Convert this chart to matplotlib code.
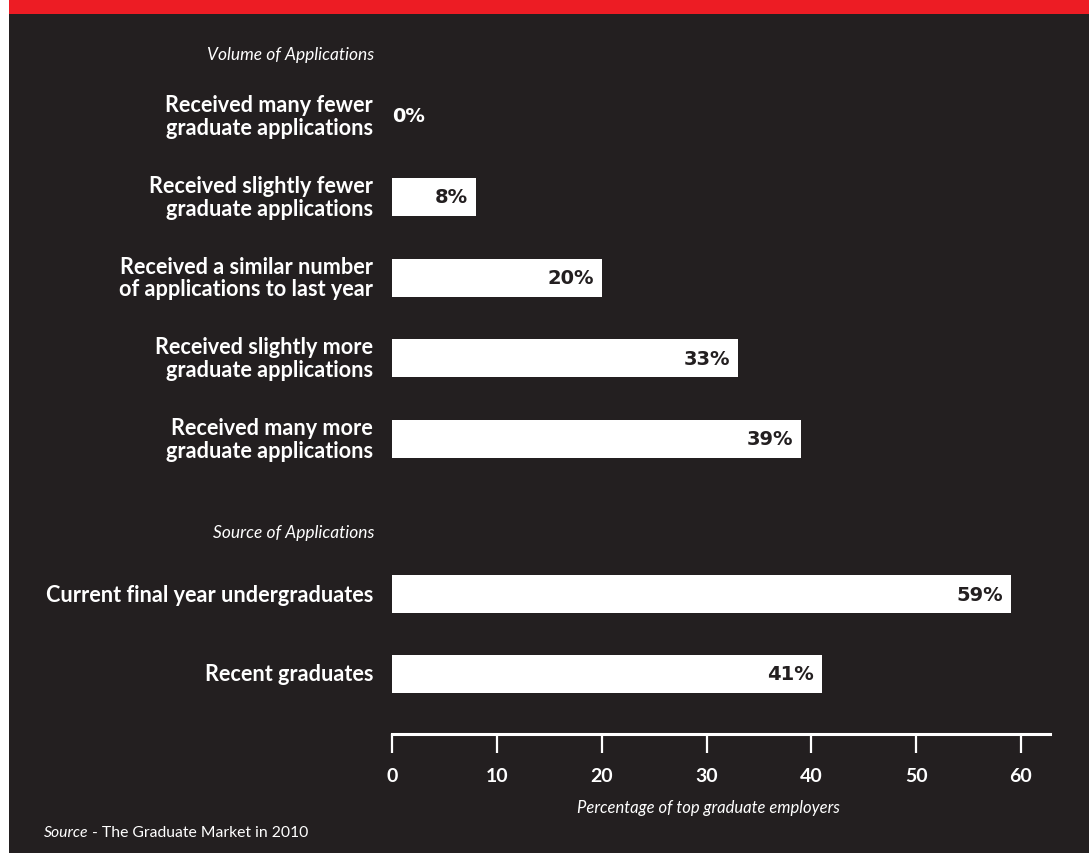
import matplotlib.pyplot as plt
from matplotlib.patches import Rectangle

# ── Data ──────────────────────────────────────────────────────────────────────
volume_labels = [
    "Received many fewer\ngraduate applications",
    "Received slightly fewer\ngraduate applications",
    "Received a similar number\nof applications to last year",
    "Received slightly more\ngraduate applications",
    "Received many more\ngraduate applications",
]
volume_values = [0, 8, 20, 33, 39]

source_labels = ["Current final year undergraduates", "Recent graduates"]
source_values = [59, 41]

x_ticks = [0, 10, 20, 30, 40, 50, 60]

# ── Style ─────────────────────────────────────────────────────────────────────
BG = "#231f20"
RED = "#ed1c24"
WHITE = "#ffffff"
LABEL_FONT = "Lato"

W, H = 1089, 854
fig = plt.figure(figsize=(W / 100, H / 100), dpi=100)
fig.patch.set_facecolor(BG)

# white strip on the left edge and red title band on top
fig.patches.append(Rectangle((0, 0), 9 / W, 1, transform=fig.transFigure,
                             facecolor=WHITE, edgecolor="none", zorder=0))
fig.patches.append(Rectangle((9 / W, 1 - 15 / H), 1, 15 / H, transform=fig.transFigure,
                             facecolor=RED, edgecolor="none", zorder=0))

# axes: x=0 at 392px, bottom spine at 735px
x0_px, x_right_px, bottom_px, top_px = 392, 1050, 735, 15
px_per_unit = (1021 - 392) / 60
ax = fig.add_axes([x0_px / W, 1 - bottom_px / H,
                   (x_right_px - x0_px) / W, (bottom_px - top_px) / H])
ax.set_facecolor("none")
ax.set_xlim(0, (x_right_px - x0_px) / px_per_unit)

row_px = 80.75
ax.set_ylim((bottom_px - 117) / row_px, (top_px - 117) / row_px)

volume_pos = [0, 1, 2, 3, 4]
source_pos = [5.92, 6.91]
bar_h = 38 / row_px

for pos, val, lab in zip(volume_pos + source_pos,
                         volume_values + source_values,
                         volume_labels + source_labels):
    ax.barh(pos, val, height=bar_h, color=WHITE, edgecolor="none")
    if val > 0:
        ax.text(val - 0.75, pos, f"{val}%", ha="right", va="center",
                color=BG, fontsize=14, fontweight="bold", family="DejaVu Sans")
    else:
        ax.text(val, pos, f"{val}%", ha="left", va="center",
                color=WHITE, fontsize=14, fontweight="bold", family="DejaVu Sans")
    ax.text(-1.8, pos, lab, ha="right", va="center", color=WHITE,
            fontsize=15.6, fontweight="bold", family=LABEL_FONT,
            linespacing=1.1, clip_on=False)

ax.text(-1.7, (55 - 117) / row_px, "Volume of Applications", ha="right", va="center",
        color=WHITE, fontsize=12.5, style="italic", family=LABEL_FONT, clip_on=False)
ax.text(-1.7, (533 - 117) / row_px, "Source of Applications", ha="right", va="center",
        color=WHITE, fontsize=12.5, style="italic", family=LABEL_FONT, clip_on=False)

# axis
for s in ["top", "right", "left"]:
    ax.spines[s].set_visible(False)
ax.spines["bottom"].set_color(WHITE)
ax.spines["bottom"].set_linewidth(2.2)
ax.set_yticks([])
ax.set_xticks(x_ticks)
ax.set_xticklabels([str(t) for t in x_ticks])
ax.tick_params(axis="x", direction="out", length=14, width=1.6, color=WHITE,
               labelcolor=WHITE, labelsize=14, pad=10)
for t in ax.get_xticklabels():
    t.set_fontweight("bold")
    t.set_family(LABEL_FONT)

fig.text(708 / W, 1 - 808 / H, "Percentage of top graduate employers", ha="center",
         va="center", color=WHITE, fontsize=12, style="italic", family=LABEL_FONT)

src = fig.text(44 / W, 1 - 833 / H, "Source", ha="left", va="center", color=WHITE,
               fontsize=11.3, style="italic", family=LABEL_FONT)
renderer = fig.canvas.get_renderer()
src_end = src.get_window_extent(renderer).x1
fig.text(src_end / W, 1 - 833 / H, " - The Graduate Market in 2010", ha="left",
         va="center", color=WHITE, fontsize=11.3, family=LABEL_FONT)

fig.savefig("out.png", dpi=100, facecolor=BG)
